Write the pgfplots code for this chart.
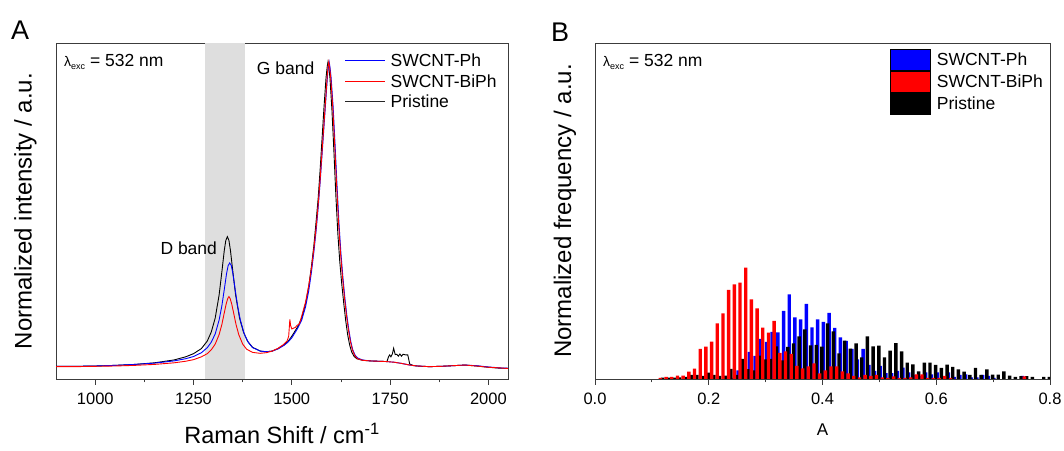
\documentclass[border=0pt]{standalone}
\usepackage{fontspec}
\setmainfont{Liberation Sans}
\usepackage{pgfplots}
\pgfplotsset{compat=1.18}
\newcommand{\fs}[1]{\fontsize{#1bp}{#1bp}\selectfont}
\definecolor{bandgray}{RGB}{222,222,222}
\definecolor{axgray}{RGB}{60,60,60}

\pgfplotstableread{
x y
900 0.040
950 0.040
1000 0.041
1050 0.043
1100 0.046
1150 0.051
1200 0.060
1230 0.070
1250 0.080
1270 0.096
1285 0.120
1295 0.148
1305 0.192
1315 0.265
1322 0.338
1328 0.404
1332 0.437
1336 0.449
1340 0.437
1344 0.404
1350 0.338
1357 0.265
1367 0.192
1377 0.148
1387 0.120
1400 0.100
1420 0.088
1435 0.086
1450 0.088
1465 0.096
1480 0.108
1490 0.118
1500 0.135
1515 0.165
1525 0.192
1535 0.238
1543 0.292
1550 0.356
1556 0.42
1562 0.50
1567 0.57
1572 0.66
1577 0.76
1582 0.86
1587 0.95
1590 0.985
1592 1.000
1594 0.985
1597 0.95
1602 0.85
1607 0.72
1612 0.58
1617 0.46
1622 0.37
1627 0.30
1632 0.24
1637 0.185
1642 0.14
1647 0.108
1652 0.086
1658 0.072
1665 0.064
1680 0.059
1700 0.057
1720 0.056
1742 0.055
1746 0.070
1749 0.076
1752 0.070
1756 0.080
1759 0.097
1763 0.077
1767 0.078
1771 0.072
1775 0.079
1779 0.072
1783 0.078
1790 0.076
1795 0.076
1800 0.047
1810 0.042
1830 0.040
1850 0.039
1880 0.040
1910 0.042
1940 0.044
1970 0.041
2000 0.037
2030 0.034
2050 0.034
}\pristine

\pgfplotstableread{
x y
900 0.040
950 0.040
1000 0.041
1050 0.043
1100 0.046
1150 0.050
1200 0.057
1230 0.064
1250 0.071
1270 0.083
1285 0.099
1295 0.116
1305 0.142
1315 0.186
1322 0.231
1328 0.281
1334 0.333
1338 0.358
1342 0.366
1346 0.358
1350 0.333
1356 0.281
1362 0.231
1369 0.186
1379 0.142
1389 0.116
1400 0.099
1420 0.088
1435 0.086
1450 0.088
1465 0.095
1480 0.106
1490 0.116
1500 0.13
1515 0.16
1525 0.185
1535 0.228
1543 0.278
1550 0.338
1556 0.40
1562 0.47
1567 0.54
1572 0.62
1577 0.71
1582 0.80
1587 0.89
1591 0.96
1593 0.985
1595 1.000
1597 0.985
1600 0.95
1605 0.86
1610 0.74
1615 0.61
1620 0.49
1625 0.395
1630 0.32
1635 0.255
1640 0.20
1645 0.155
1650 0.118
1655 0.092
1661 0.075
1668 0.066
1680 0.060
1700 0.057
1720 0.056
1740 0.055
1760 0.053
1780 0.049
1800 0.044
1820 0.041
1850 0.039
1880 0.040
1910 0.042
1940 0.044
1970 0.042
2000 0.038
2030 0.035
2050 0.034
}\swph

\pgfplotstableread{
x y
900 0.039
950 0.039
1000 0.040
1050 0.041
1100 0.043
1150 0.046
1200 0.051
1230 0.056
1250 0.061
1270 0.070
1285 0.080
1295 0.092
1305 0.110
1315 0.140
1322 0.172
1328 0.208
1333 0.237
1337 0.254
1340 0.260
1343 0.254
1347 0.237
1352 0.208
1358 0.172
1365 0.140
1375 0.110
1385 0.094
1400 0.084
1419 0.081
1435 0.083
1450 0.088
1465 0.097
1478 0.108
1488 0.120
1492 0.135
1495 0.188
1497 0.168
1500 0.158
1504 0.160
1509 0.163
1514 0.170
1519 0.173
1525 0.198
1535 0.243
1543 0.294
1550 0.35
1556 0.41
1562 0.48
1567 0.55
1572 0.63
1577 0.72
1582 0.81
1587 0.90
1590 0.955
1592 0.985
1594 1.000
1596 0.985
1599 0.95
1604 0.86
1609 0.74
1614 0.61
1619 0.49
1624 0.395
1629 0.32
1634 0.255
1639 0.20
1644 0.155
1649 0.118
1654 0.092
1660 0.074
1667 0.064
1680 0.059
1700 0.057
1720 0.056
1740 0.055
1760 0.053
1780 0.049
1800 0.044
1820 0.041
1850 0.039
1880 0.040
1910 0.042
1940 0.044
1970 0.041
2000 0.037
2030 0.035
2050 0.033
}\swbiph

% histogram heights (px of a 336 px tall axis)
\pgfplotstableread{
x h
0.119 1.3
0.129 1.3
0.139 1.3
0.149 1.7
0.159 2
0.169 4
0.179 4
0.189 3
0.199 6.3
0.209 4
0.219 3
0.229 3.3
0.239 10
0.249 4
0.259 20
0.269 9.8
0.279 8.5
0.289 23.3
0.299 19.7
0.309 20
0.319 32.5
0.329 18.7
0.339 32.2
0.349 35.5
0.359 42.7
0.369 49.7
0.379 33.7
0.389 34
0.399 32.3
0.409 55.5
0.419 47.7
0.429 25.7
0.439 38.3
0.449 30.3
0.459 35.7
0.469 21.7
0.479 42.5
0.489 32.5
0.499 33.3
0.509 21.7
0.519 28.3
0.529 35.8
0.539 27.7
0.549 16.3
0.559 14.5
0.569 7.7
0.579 16.3
0.589 16.3
0.599 14
0.609 11.2
0.619 14.3
0.629 12
0.639 9.5
0.649 7.3
0.659 4
0.669 11.2
0.679 4
0.689 9.7
0.699 4.3
0.709 4.3
0.719 7.7
0.729 3.3
0.739 2
0.749 2.8
0.759 2.8
0.769 2
0.789 2
0.799 2
}\histblack

\pgfplotstableread{
x h
0.2415 1
0.2515 8.5
0.2615 5
0.2715 27
0.2815 23
0.2915 40
0.3015 37
0.3115 47
0.3215 46.5
0.3315 68
0.3415 84.5
0.3515 61.5
0.3615 59.5
0.3715 75
0.3815 51.5
0.3915 59.5
0.4015 57
0.4115 66
0.4215 51
0.4315 41.5
0.4415 38
0.4515 30
0.4615 19.5
0.4715 30
0.4815 14
0.4915 8
0.5015 13
0.5115 5.8
0.5215 5.8
0.5315 8
0.5415 11.3
0.5515 6.5
0.5615 4
0.5715 3
0.5815 6.5
0.5915 4.5
0.6015 6.5
0.6115 2
0.6215 6.5
0.6315 2
0.6415 4
0.6515 4.5
0.6615 1.5
0.6715 1.5
0.6815 4
0.6915 3
0.7015 1
0.7515 3
}\histblue

\pgfplotstableread{
x h
0.115 1
0.125 2
0.135 2
0.145 3.3
0.155 3.3
0.165 7.3
0.175 10.3
0.185 30
0.195 32.3
0.205 37.3
0.215 55.7
0.225 65.7
0.235 89
0.245 94.7
0.255 96.3
0.265 111.3
0.275 79.7
0.285 70.7
0.295 51.3
0.305 46.3
0.315 58
0.325 26
0.335 27.7
0.345 25
0.355 13
0.365 10.5
0.375 12.5
0.385 15.5
0.395 5.7
0.405 8.5
0.415 12.5
0.425 12.5
0.435 7.5
0.445 5.5
0.455 3
0.465 1.5
0.475 4
0.485 3
0.495 4
0.505 1.5
0.515 1
0.525 2.7
0.535 1
0.545 1
0.555 1.5
0.565 4.5
0.575 4.5
0.585 1
0.595 1
0.605 1
0.615 3
0.625 1
0.755 2.5
}\histred

\pgfplotsset{
  panel/.style={
    scale only axis, anchor=south west, height=336bp,
    ymin=0, ytick=\empty,
    tick pos=left, tick align=outside,
    major tick length=5.7bp, minor tick length=3.3bp,
    axis line style={line width=0.9bp, draw=axgray},
    every tick/.style={line width=0.9bp, draw=axgray},
    xticklabel style={font=\fs{16.5}, anchor=north, inner sep=0pt},
    every x tick label/.append style={yshift=-8bp},
    legend cell align=left,
  }
}

\begin{document}
\begin{tikzpicture}
\path[use as bounding box] (0bp,0bp) rectangle (1064bp,451bp);
\node[anchor=base west, font=\fs{27}, inner sep=0pt] at (11bp,411bp) {A};
\node[anchor=base west, font=\fs{27}, inner sep=0pt] at (551bp,409.3bp) {B};

\begin{axis}[panel,
  at={(56bp,72bp)}, width=452bp,
  xmin=900, xmax=2050, ymax=1.06,
  xtick={1000,1250,1500,1750,2000}, xticklabels={1000,1250,1500,1750,2000},
  minor xtick={1125,1375,1625,1875},
  xlabel={Raman Shift / cm\textsuperscript{-1}},
  xlabel style={font=\fs{23.5}, at={(axis description cs:0.5,-0.1905)}, anchor=base},
  ylabel={Normalized intensity / a.u.},
  ylabel style={font=\fs{24}, at={(axis description cs:-0.0675,0.5)}, anchor=center},
  legend style={at={(axis description cs:0.639,0.974)}, anchor=north west,
    draw=none, fill=none, inner sep=0pt, row sep=2.5bp, font=\fs{17.5}},
  legend image code/.code={\draw[#1, line width=0.8bp] (0bp,0.5bp) -- (40bp,0.5bp); \path (43bp,0bp);},
]
\addplot[fill=bandgray, draw=none, forget plot] coordinates {(1280,0) (1380,0) (1380,1.06) (1280,1.06)} -- cycle;
\addlegendimage{blue}\addlegendentry{SWCNT-Ph}
\addlegendimage{red}\addlegendentry{SWCNT-BiPh}
\addlegendimage{black!85}\addlegendentry{Pristine}
\addplot[black, line width=0.9bp, forget plot] table[x=x,y=y] {\pristine};
\addplot[blue, line width=0.9bp, forget plot] table[x=x,y=y] {\swph};
\addplot[red, line width=0.9bp, forget plot] table[x=x,y=y] {\swbiph};
\node[anchor=base west, font=\fs{17.5}, inner sep=0pt] at (axis description cs:0.0177,0.929)
  {{\fs{14}λ}\raisebox{-2.5bp}{\fs{9}exc} = 532 nm};
\node[anchor=base west, font=\fs{17.5}, inner sep=0pt] at (axis description cs:0.444,0.905) {G band};
\node[anchor=base west, font=\fs{17.5}, inner sep=0pt] at (axis description cs:0.2308,0.372) {D band};
\end{axis}

\begin{axis}[panel,
  at={(595bp,72bp)}, width=455bp,
  xmin=0, xmax=0.8, ymax=336,
  xtick={0,0.2,0.4,0.6,0.8}, xticklabels={0.0,0.2,0.4,0.6,0.8},
  minor xtick={0.1,0.3,0.5,0.7},
  xlabel={A},
  xlabel style={font=\fs{17}, at={(axis description cs:0.5,-0.1667)}, anchor=base},
  ylabel={Normalized frequency / a.u.},
  ylabel style={font=\fs{24}, at={(axis description cs:-0.066,0.5)}, anchor=center},
  legend style={at={(axis description cs:0.6468,0.982)}, anchor=north west,
    draw=none, fill=none, inner sep=0pt, row sep=0.5bp, font=\fs{17.5}},
  legend image code/.code={\fill[#1] (0bp,-10.5bp) rectangle (40.7bp,10.5bp); \path (45bp,0bp);},
]
\addlegendimage{fill=blue}\addlegendentry{SWCNT-Ph}
\addlegendimage{fill=red}\addlegendentry{SWCNT-BiPh}
\addlegendimage{fill=black}\addlegendentry{Pristine}
\addplot[ybar, bar width=0.006, bar shift=0pt, fill=blue, draw=none, forget plot] table[x=x,y=h] {\histblue};
\addplot[ybar, bar width=0.006, bar shift=0pt, fill=black, draw=none, forget plot] table[x=x,y=h] {\histblack};
\addplot[ybar, bar width=0.006, bar shift=0pt, fill=red, draw=none, forget plot] table[x=x,y=h] {\histred};
\node[anchor=base west, font=\fs{17.5}, inner sep=0pt] at (axis description cs:0.0176,0.929)
  {{\fs{14}λ}\raisebox{-2.5bp}{\fs{9}exc} = 532 nm};
\end{axis}
\end{tikzpicture}
\end{document}
